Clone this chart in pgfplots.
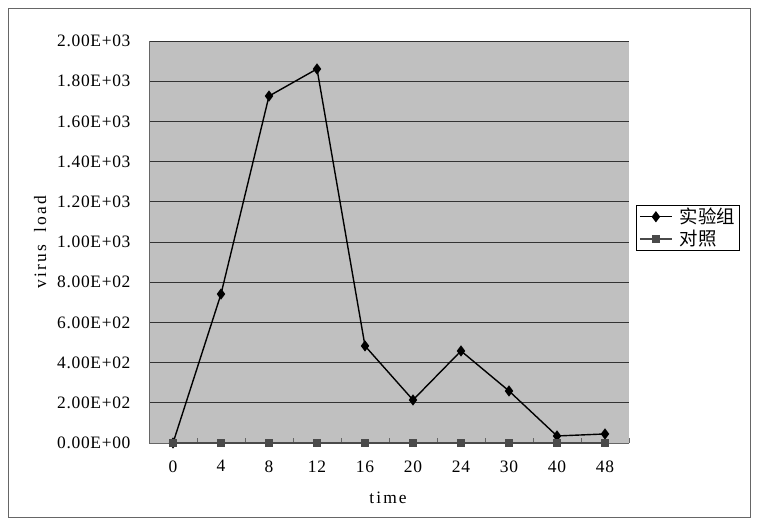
\documentclass[border=0pt]{standalone}
\usepackage{pgfplots}
\pgfplotsset{compat=1.18}
\usepackage{fontspec}
\setmainfont{Liberation Serif}
\newfontfamily\spaced{Liberation Serif}[LetterSpace=4]
\newfontfamily\wide{Liberation Serif}[LetterSpace=12]
\newfontfamily\cjk{Noto Sans CJK SC}
\definecolor{plotgray}{HTML}{C0C0C0}
\definecolor{ctrl}{HTML}{4A4A4A}
\begin{document}
\begin{tikzpicture}
\useasboundingbox (0,0) rectangle (758bp,525bp);
\fill[white] (0,0) rectangle (758bp,525bp);
\draw[black!60, line width=0.8pt] (8bp,8bp) rectangle (750bp,517bp);
\begin{axis}[
  at={(149bp,82bp)}, anchor=south west,
  width=480bp, height=402bp, scale only axis,
  xmin=-0.5, xmax=9.5, ymin=0, ymax=2000,
  axis background/.style={fill=plotgray},
  axis line style={black!60, line width=0.9pt},
  axis x line*=bottom, axis y line*=left,
  xtick={0,...,9},
  xticklabels={0,4,8,12,16,20,24,30,40,48},
  minor xtick={-0.5,0.5,...,9.5},
  major x tick style={draw=none},
  minor x tick style={black!60, line width=0.8pt},
  minor tick length=5bp,
  tick align=inside,
  ytick={0,200,...,2000},
  yticklabels={0.00E+00,2.00E+02,4.00E+02,6.00E+02,8.00E+02,1.00E+03,1.20E+03,1.40E+03,1.60E+03,1.80E+03,2.00E+03},
  major y tick style={draw=none},
  ymajorgrids, grid style={black!80, line width=0.9pt},
  tick label style={font=\spaced\fontsize{17.5}{20}\selectfont},
  yticklabel style={xshift=-15bp},
  xticklabel style={yshift=-14bp},
  xlabel={time}, ylabel={virus\ \ load},
  label style={font=\wide\fontsize{17.5}{20}\selectfont},
  xlabel style={at={(axis description cs:0.498,-0.137)}, anchor=center},
  ylabel style={at={(axis description cs:-0.227,0.5)}, anchor=center},
  legend style={at={(axis description cs:1.0146,0.592)}, anchor=north west,
    draw=black, fill=white, font=\cjk\fontsize{18.5}{22}\selectfont,
    inner xsep=3bp, inner ysep=3bp, row sep=5bp, column sep=6bp,
    nodes={inner xsep=1bp, inner ysep=0bp}},
  legend cell align=left,
  legend image code/.code={\draw[mark repeat=2,mark phase=2,#1]
    plot coordinates {(0bp,0bp) (16bp,0bp) (32bp,0bp)};},
  clip=false,
]
\addplot[black, line width=1.4pt, mark=diamond*, mark size=4.5bp,
  mark options={solid, fill=black}] coordinates {
  (0,0) (1,741) (2,1726) (3,1861) (4,483) (5,214) (6,458) (7,259) (8,35) (9,45)};
\addlegendentry{实验组}
\addplot[ctrl, line width=1.4pt, mark=square*, mark size=3.5bp,
  mark options={solid, fill=ctrl}] coordinates {
  (0,0) (1,0) (2,0) (3,0) (4,0) (5,0) (6,0) (7,0) (8,0) (9,0)};
\addlegendentry{对照}
\end{axis}
\end{tikzpicture}
\end{document}
